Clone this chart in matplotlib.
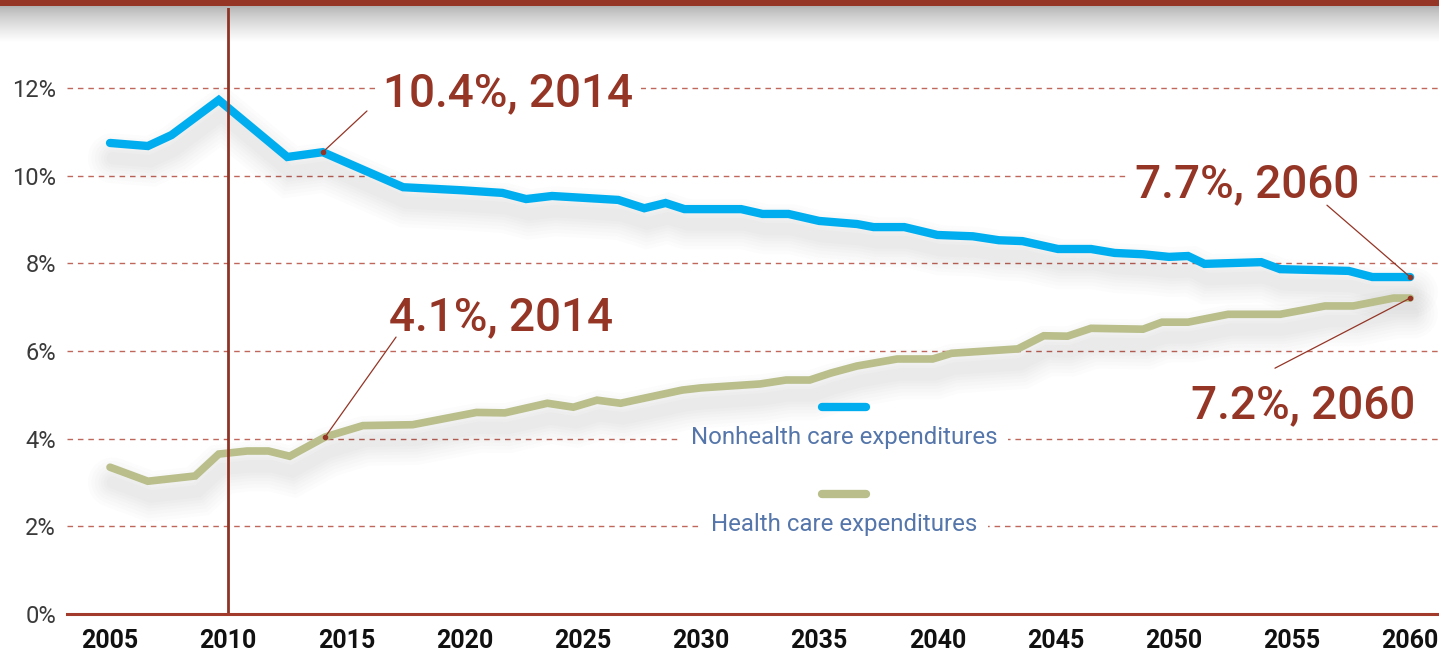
import numpy as np
import matplotlib
matplotlib.use("Agg")
import matplotlib.pyplot as plt
import matplotlib.patheffects as pe
from matplotlib.patches import Rectangle

# data (year, % of GDP)
nonhealth_years = [2005.0, 2006.6, 2007.6, 2009.6, 2012.5, 2014.0, 2017.4, 2019.9, 2021.6, 2022.6,
                   2023.7, 2026.5, 2027.6, 2028.5, 2029.3, 2031.7, 2032.6, 2033.7, 2035.0, 2036.6,
                   2037.3, 2038.6, 2040.0, 2041.5, 2042.6, 2043.6, 2045.1, 2046.5, 2047.5, 2048.7,
                   2049.8, 2050.6, 2051.3, 2053.7, 2054.5, 2057.4, 2058.4, 2060.0]
nonhealth_vals = [10.75, 10.68, 10.93, 11.73, 10.43, 10.54, 9.74, 9.67, 9.61, 9.47,
                  9.54, 9.45, 9.26, 9.38, 9.24, 9.24, 9.13, 9.13, 8.97, 8.90,
                  8.83, 8.83, 8.65, 8.62, 8.53, 8.51, 8.33, 8.33, 8.24, 8.21,
                  8.15, 8.17, 7.99, 8.03, 7.87, 7.83, 7.69, 7.69]

health_years = [2005.0, 2006.6, 2008.6, 2009.6, 2010.8, 2011.7, 2012.6, 2014.1, 2015.7, 2017.8,
                2020.5, 2021.7, 2023.5, 2024.6, 2025.6, 2026.6, 2029.2, 2030.0, 2032.5, 2033.6,
                2034.6, 2035.5, 2036.6, 2038.3, 2039.8, 2040.6, 2043.4, 2044.5, 2045.5, 2046.5,
                2048.7, 2049.5, 2050.6, 2052.3, 2054.5, 2056.4, 2057.6, 2059.3, 2060.0]
health_vals = [3.35, 3.03, 3.15, 3.65, 3.72, 3.72, 3.60, 4.04, 4.30, 4.32,
               4.60, 4.59, 4.81, 4.72, 4.88, 4.81, 5.11, 5.16, 5.25, 5.34,
               5.34, 5.50, 5.66, 5.82, 5.82, 5.95, 6.05, 6.35, 6.34, 6.52,
               6.50, 6.66, 6.66, 6.84, 6.84, 7.03, 7.03, 7.21, 7.21]

x_ticks = [2005, 2010, 2015, 2020, 2025, 2030, 2035, 2040, 2045, 2050, 2055, 2060]
y_ticks = [0, 2, 4, 6, 8, 10, 12]
y_labels = ["0%", "2%", "4%", "6%", "8%", "10%", "12%"]

# callouts: label, point (year, value)
callouts = [("10.4%, 2014", 2014.0, 10.54),
            ("7.7%, 2060", 2060.0, 7.69),
            ("4.1%, 2014", 2014.1, 4.04),
            ("7.2%, 2060", 2060.0, 7.21)]

BLUE = "#00aeef"
GREEN = "#b9be8a"
RED = "#943526"
W, H = 1439, 654

fig = plt.figure(figsize=(W / 100, H / 100), dpi=100)

# top band with soft gray shadow underneath
fig.patches.append(Rectangle((0, 1 - 6 / H), 1, 6 / H, transform=fig.transFigure,
                             facecolor=RED, edgecolor="none", zorder=5))
gax = fig.add_axes([0, 1 - 42 / H, 1, 36 / H], zorder=0)
t = np.linspace(0, 1, 120)
shade = 0.69 + 0.31 * t ** 0.75
gax.imshow(np.dstack([shade, shade, shade]).reshape(-1, 1, 3), aspect="auto",
           extent=[0, 1, 0, 1], origin="upper")
gax.axis("off")

ax = fig.add_axes([67 / W, 40 / H, (W - 67) / W, 606 / H], zorder=1)
ax.patch.set_alpha(0)
ax.set_xlim(2003.18, 2061.22)
ax.set_ylim(0, 13.83)

for y in y_ticks[1:]:
    ax.axhline(y, color="#c0675c", lw=1.0, ls=(0, (4, 3.5)), zorder=1)

def shadow():
    fx = []
    for w in [36, 31, 26, 21, 17, 13, 9]:
        fx.append(pe.SimpleLineShadow(offset=(2, -11), shadow_color="black", alpha=0.011, linewidth=w))
    fx.append(pe.Normal())
    return fx

ax.plot(nonhealth_years, nonhealth_vals, color=BLUE, lw=6, solid_capstyle="round",
        solid_joinstyle="miter", path_effects=shadow(), zorder=3)
ax.plot(health_years, health_vals, color=GREEN, lw=5.5, solid_capstyle="round",
        solid_joinstyle="miter", path_effects=shadow(), zorder=3)

ax.axvline(2010, color="#8e3426", lw=2, zorder=4)

for s in ["top", "right", "left"]:
    ax.spines[s].set_visible(False)
ax.spines["bottom"].set_color("#a33b2c")
ax.spines["bottom"].set_linewidth(2.2)
ax.spines["bottom"].set_zorder(5)

ax.set_xticks(x_ticks)
ax.set_xticklabels([str(x) for x in x_ticks], fontfamily="Roboto", fontweight="bold",
                   fontsize=18, color="#111111")
ax.set_yticks(y_ticks)
ax.set_yticklabels(y_labels, fontfamily="Roboto", fontweight="normal", fontsize=17,
                   color="#3a3a3a")
ax.tick_params(axis="x", length=0, pad=11)
ax.tick_params(axis="y", length=0, pad=8)

# callout text positions (layout) and leader start points
text_pos = [(2021.84, 11.59), (2053.1, 9.51), (2021.54, 6.48), (2055.47, 4.47)]
leader_start = [(2015.87, 11.48), (2056.48, 9.33), (2017.1, 6.32), (2054.28, 5.61)]
for (label, px, py), (tx, ty), (lx, ly) in zip(callouts, text_pos, leader_start):
    ax.text(tx, ty, label, ha="center", va="baseline", fontsize=33, color=RED,
            fontfamily="Roboto", fontweight="medium", zorder=6,
            bbox=dict(facecolor="white", edgecolor="none", pad=6))
    ax.annotate("", xy=(px, py), xytext=(lx, ly),
                arrowprops=dict(arrowstyle="-", color=RED, lw=0.9, shrinkA=0, shrinkB=0),
                zorder=6)
    ax.plot(px, py, "o", color=RED, ms=3, zorder=7)

# legend: key line above each label
ax.plot([2035.12, 2036.98], [4.72, 4.72], color=BLUE, lw=6, solid_capstyle="round", zorder=6)
ax.plot([2035.12, 2036.98], [2.74, 2.74], color=GREEN, lw=6, solid_capstyle="round", zorder=6)
ax.text(2036.05, 3.88, "Nonhealth care expenditures", ha="center", va="baseline",
        fontsize=17.3, color="#5576aa", fontfamily="Roboto", fontweight="normal", zorder=2,
        bbox=dict(facecolor="white", edgecolor="none", pad=8))
ax.text(2036.05, 1.89, "Health care expenditures", ha="center", va="baseline",
        fontsize=17.3, color="#5576aa", fontfamily="Roboto", fontweight="normal", zorder=2,
        bbox=dict(facecolor="white", edgecolor="none", pad=8))

fig.savefig("out.png", dpi=100)
